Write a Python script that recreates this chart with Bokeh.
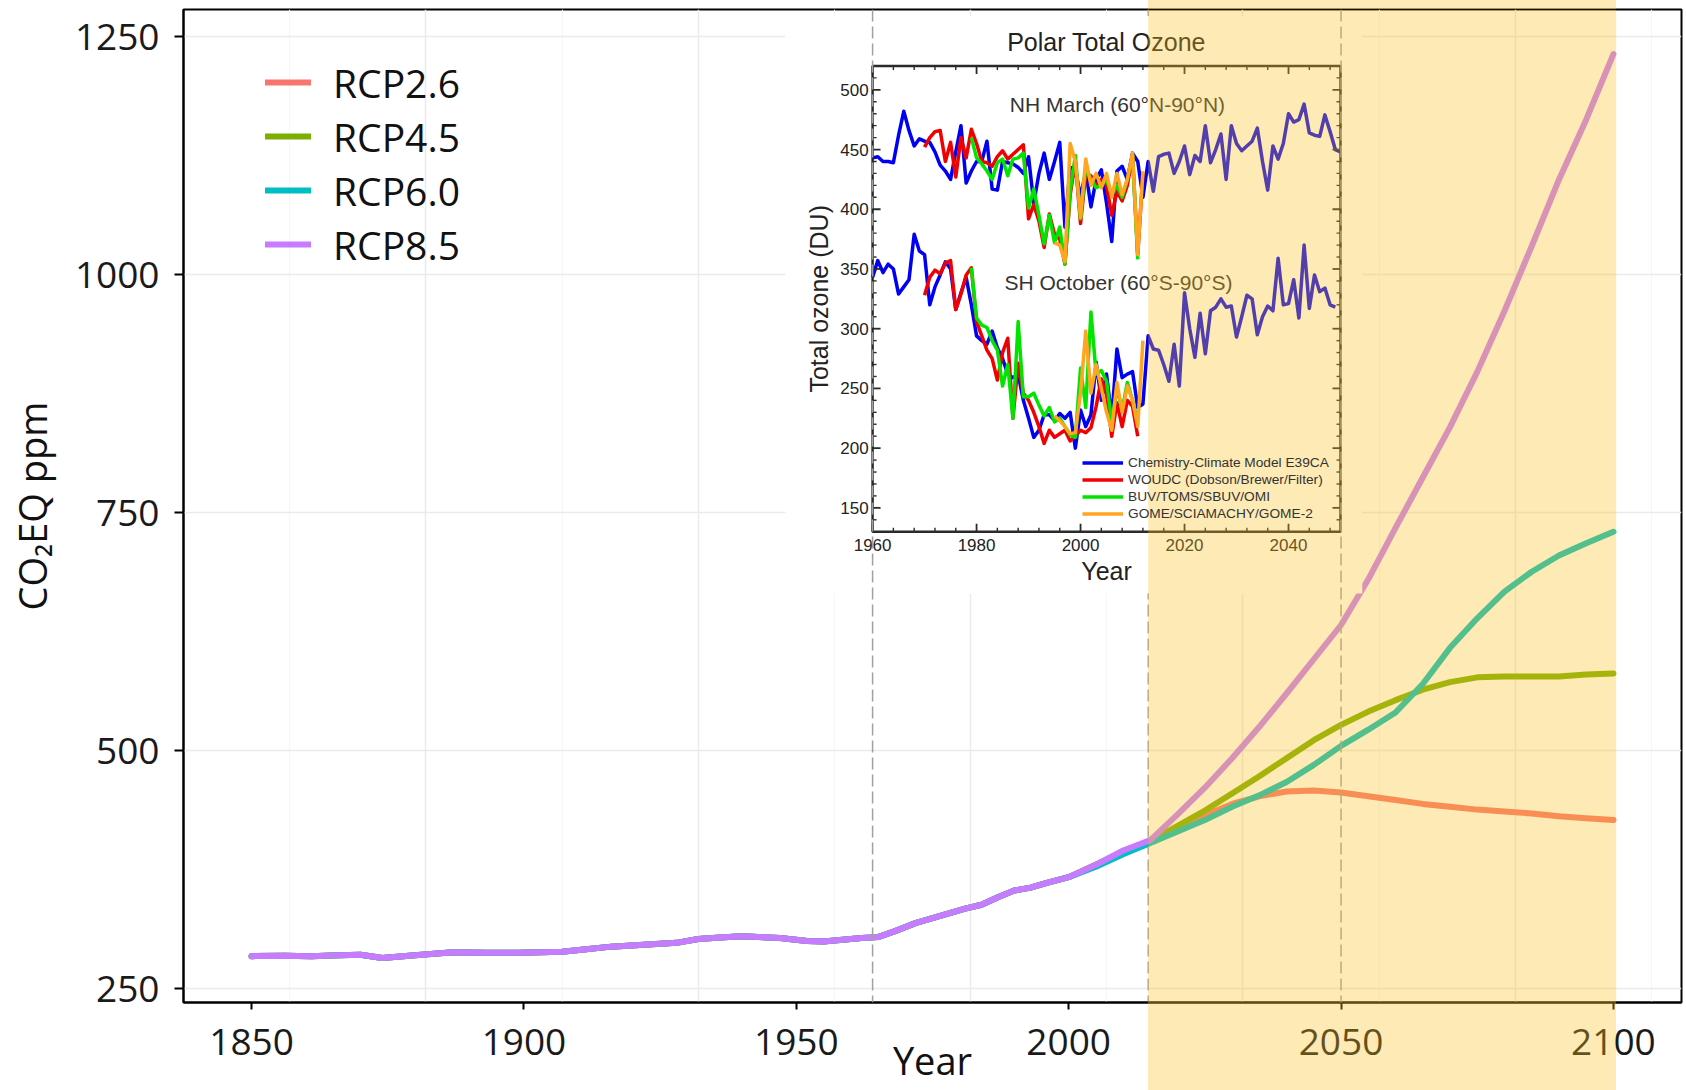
import numpy as np
from bokeh.plotting import figure
from bokeh.models import (Range1d, FixedTicker, BoxAnnotation, Span, Legend, LegendItem,
                          InlineStyleSheet)
from bokeh.core.properties import value
from bokeh.embed import file_html
from bokeh.resources import INLINE

# ---------------- main chart data (CO2-equivalent, ppm) ----------------
hist_years = [1850, 1856, 1861, 1866, 1870, 1874, 1880, 1887, 1893, 1899, 1907, 1911, 1916,
              1922, 1928, 1932, 1936, 1940, 1947, 1952, 1955, 1958, 1962, 1965, 1968, 1972,
              1975, 1978, 1981, 1984, 1987, 1990, 1993, 1996, 2000]
hist_ppm = [284, 284.5, 284, 285, 285.5, 282, 285, 288, 287.5, 287.5, 288.6, 291, 294,
            296, 298, 302, 303.5, 305, 303, 300, 299.5, 301, 303, 304, 310, 319,
            324, 329, 334, 338, 346, 353, 356, 361, 367]
proj_years = [2005, 2010, 2015, 2020, 2025, 2030, 2035, 2040, 2045, 2050,
              2055, 2060, 2065, 2070, 2075, 2080, 2085, 2090, 2095, 2100]
rcp26 = [380, 394, 405, 418, 432, 444, 452, 457, 458, 456, 452, 448, 444, 441, 438, 436, 434, 431, 429, 427]
rcp45 = [380, 394, 405, 421, 437, 455, 473, 492, 511, 527, 541, 553, 564, 572, 577, 578, 578, 578, 580, 581]
rcp60 = [378, 391, 403, 415, 427, 441, 453, 467, 485, 505, 522, 540, 570, 608, 639, 667, 688, 705, 718, 730]
rcp85 = [380, 395, 406, 433, 461, 492, 525, 560, 596, 632, 680, 734, 787, 840, 898, 962, 1030, 1100, 1163, 1232]
series_names = ["RCP2.6", "RCP4.5", "RCP6.0", "RCP8.5"]
series_colors = ["#F8766D", "#7CAE00", "#00BFC4", "#C77CFF"]
x_ticks = [1850, 1900, 1950, 2000, 2050, 2100]
y_ticks = [250, 500, 750, 1000, 1250]
grid_years = [1832, 1882, 1932, 1982, 2032, 2082]
grid_minor_years = [1857, 1907, 1957, 2007, 2057, 2107]
guide_years = [1964, 2050]
band_years = (2014.6, 2100.5)

# ---------------- inset data: polar total ozone (DU) ----------------
nh_model_years = list(range(1960, 2051))
nh_model = [443, 444, 440, 440, 439, 462, 482, 466, 453, 459, 457, 456, 448, 437, 432, 425, 448, 470,
            422, 432, 440, 440, 457, 417, 416, 440, 439, 438, 435, 430, 444, 405, 430, 447, 425, 440,
            456, 385, 435, 434, 410, 432, 402, 425, 433, 405, 373, 432, 436, 425, 447, 440, 410, 440,
            415, 444, 446, 447, 430, 440, 453, 429, 445, 440, 470, 439, 450, 463, 425, 470, 455, 449,
            453, 457, 468, 440, 416, 453, 442, 455, 480, 473, 475, 488, 464, 462, 461, 479, 465, 450, 448]
sh_model_years = list(range(1960, 2050))
sh_model = [343, 357, 347, 354, 350, 329, 335, 341, 379, 365, 362, 320, 335, 345, 356, 350, 316, 330,
            343, 320, 294, 290, 287, 298, 284, 275, 262, 259, 262, 240, 225, 209, 215, 228, 228, 223,
            229, 225, 230, 200, 232, 218, 228, 272, 240, 262, 225, 283, 259, 262, 264, 234, 237, 294,
            283, 282, 270, 256, 287, 252, 330, 300, 276, 313, 279, 315, 318, 325, 318, 319, 293, 310,
            328, 325, 295, 310, 319, 315, 359, 320, 321, 341, 309, 370, 317, 345, 331, 334, 320, 318]
nh_woudc_years = list(range(1970, 2013))
nh_woudc = [452, 460, 465, 466, 440, 456, 427, 460, 443, 467, 455, 440, 439, 436, 444, 449, 442, 446,
            450, 454, 392, 404, 390, 368, 396, 379, 375, 354, 412, 440, 388, 430, 428, 420, 425, 420,
            395, 415, 407, 420, 445, 362, 430]
nh_buv_years = list(range(1979, 2012))
nh_buv = [460, 443, 438, 432, 425, 439, 442, 428, 442, 443, 447, 401, 417, 395, 371, 395, 372, 385,
          354, 415, 445, 392, 435, 425, 418, 420, 425, 412, 420, 410, 425, 445, 358]
nh_gome_years = list(range(1995, 2013))
nh_gome = [372, 370, 356, 455, 440, 393, 442, 420, 430, 418, 430, 410, 430, 412, 425, 447, 362, 432]
sh_woudc_years = list(range(1970, 2012))
sh_woudc = [328, 343, 349, 346, 355, 357, 316, 329, 345, 351, 306, 294, 282, 275, 257, 280, 292, 225,
            271, 246, 240, 230, 218, 204, 215, 209, 212, 215, 206, 210, 215, 213, 217, 235, 258, 245,
            210, 238, 218, 240, 235, 210]
sh_buv_years = list(range(1979, 2012))
sh_buv = [351, 309, 303, 301, 290, 282, 252, 270, 225, 306, 243, 243, 246, 236, 227, 234, 222, 225,
          218, 211, 209, 267, 234, 314, 262, 265, 256, 222, 250, 232, 255, 240, 222]
sh_gome_years = list(range(1995, 2013))
sh_gome = [227, 223, 218, 212, 213, 246, 298, 246, 270, 250, 230, 215, 255, 230, 252, 240, 218, 290]
inset_names = ["Chemistry-Climate Model E39CA", "WOUDC (Dobson/Brewer/Filter)",
               "BUV/TOMS/SBUV/OMI", "GOME/SCIAMACHY/GOME-2"]
inset_colors = ["#0000F2", "#F00000", "#00E400", "#FFA51F"]
inset_x_ticks = [1960, 1980, 2000, 2020, 2040]
inset_y_ticks = [150, 200, 250, 300, 350, 400, 450, 500]

# ---------------- geometry ----------------
W, H = 1686, 1090
FRAME_L, FRAME_R, FRAME_T, FRAME_B = 183, 1681, 9, 1002
X0, X1 = 1837.5, 2112.5
Y0, Y1 = 235.3, 1278.8
inset_main_x = (1964.0, 2049.9)     # where the inset frame sits, in main-axis years
inset_main_y = (730.0, 1219.5)      # ... and in main-axis ppm
inset_xlim = (1960, 2050)
inset_ylim = (130, 520)
inset_panel_x = (1948.0, 2053.9)    # white panel behind the inset (main units)
inset_panel_y = (665.0, 1272.0)

kx = (inset_xlim[1] - inset_xlim[0]) / (inset_main_x[1] - inset_main_x[0])
ky = (inset_ylim[1] - inset_ylim[0]) / (inset_main_y[1] - inset_main_y[0])

p = figure(width=W, height=H, x_range=Range1d(X0, X1), y_range=Range1d(Y0, Y1),
           output_backend="svg", toolbar_location=None,
           min_border_left=FRAME_L, min_border_right=W - FRAME_R,
           min_border_top=FRAME_T, min_border_bottom=H - FRAME_B)
p.extra_x_ranges = {"ix": Range1d(inset_xlim[0] - (inset_main_x[0] - X0) * kx,
                                  inset_xlim[1] + (X1 - inset_main_x[1]) * kx)}
p.extra_y_ranges = {"iy": Range1d(inset_ylim[0] - (inset_main_y[0] - Y0) * ky,
                                  inset_ylim[1] + (Y1 - inset_main_y[1]) * ky)}
p.background_fill_color = "white"
p.border_fill_color = "white"
p.outline_line_color = "black"
p.outline_line_width = 2

MAIN_FONT = "Open Sans"
for ax in (p.xaxis[0], p.yaxis[0]):
    ax.axis_line_color = "black"
    ax.axis_line_width = 2
    ax.major_tick_line_color = "black"
    ax.major_tick_line_width = 2
    ax.major_tick_in = 0
    ax.minor_tick_line_color = None
    ax.major_label_text_font = MAIN_FONT
    ax.major_label_text_font_size = "37px"
    ax.major_label_text_color = "#1a1a1a"
    ax.axis_label_text_font = MAIN_FONT
    ax.axis_label_text_font_size = "38px"
    ax.axis_label_text_font_style = "normal"
    ax.axis_label_text_color = "#111111"
p.xaxis.ticker = FixedTicker(ticks=x_ticks)
p.yaxis.ticker = FixedTicker(ticks=y_ticks)
p.xaxis.axis_label = "Year"
p.yaxis.axis_label = "CO\u2082EQ ppm"
p.xaxis.major_tick_out = 7
p.xaxis.major_label_standoff = 19
p.xaxis.axis_label_standoff = -24
p.yaxis.major_tick_out = 9
p.yaxis.major_label_standoff = 15
p.yaxis.axis_label_standoff = 14

p.xgrid.ticker = FixedTicker(ticks=grid_years, minor_ticks=grid_minor_years)
p.xgrid.grid_line_color = "#EBEBEB"
p.xgrid.grid_line_width = 1.5
p.xgrid.minor_grid_line_color = "#F6F6F6"
p.xgrid.minor_grid_line_width = 1.2
p.ygrid.ticker = FixedTicker(ticks=y_ticks)
p.ygrid.grid_line_color = "#EBEBEB"
p.ygrid.grid_line_width = 1.5

# dashed guide at the band edge (hidden behind the inset panel)
p.add_layout(Span(location=band_years[0], dimension="height", line_color="#A8A8A8",
                  line_dash="12 5", line_width=1.5, level="underlay"))

# ---------------- main series ----------------
main_series = [rcp26, rcp45, rcp60, rcp85]
main_renderers = []
for name, vals, col in zip(series_names, main_series, series_colors):
    r = p.line(hist_years + proj_years, hist_ppm + vals, line_color=col, line_width=6,
               line_cap="round", line_join="round")
    main_renderers.append(r)

legend = Legend(items=[LegendItem(label=n, renderers=[r]) for n, r in zip(series_names, main_renderers)],
                location=(82, 731), padding=0, margin=0, spacing=0,
                glyph_width=46, glyph_height=54, label_height=54, label_standoff=22,
                label_text_font=MAIN_FONT, label_text_font_size="39px", label_text_color="#111111",
                background_fill_alpha=0, border_line_alpha=0)
p.add_layout(legend)

# ---------------- inset ----------------
p.quad(left=[inset_panel_x[0]], right=[inset_panel_x[1]], bottom=[inset_panel_y[0]], top=[inset_panel_y[1]],
       fill_color="white", line_color=None)

IR = dict(x_range_name="ix", y_range_name="iy")
INSET_FONT = value("Liberation Sans")
px_x = 5.2     # pixels per inset year
px_y = 1.195   # pixels per DU

inset_series = [
    (nh_model_years, nh_model, 0), (sh_model_years, sh_model, 0),
    (nh_woudc_years, nh_woudc, 1), (sh_woudc_years, sh_woudc, 1),
    (nh_buv_years, nh_buv, 2), (sh_buv_years, sh_buv, 2),
    (nh_gome_years, nh_gome, 3), (sh_gome_years, sh_gome, 3),
]
inset_renderers = {}
for xs, ys, k in inset_series:
    r = p.line(xs, ys, line_color=inset_colors[k], line_width=3.5, line_join="round", **IR)
    inset_renderers.setdefault(k, r)

# frame
p.quad(left=[inset_xlim[0]], right=[inset_xlim[1]], bottom=[inset_ylim[0]], top=[inset_ylim[1]],
       fill_color=None, line_color="#2a2a2a", line_width=2.5, **IR)
# ticks (inward)
minor_x = [v for v in np.arange(inset_xlim[0], inset_xlim[1] + 0.1, 4.0) if v not in inset_x_ticks]
minor_y = [v for v in np.arange(inset_ylim[0], inset_ylim[1] + 0.1, 10.0) if v not in inset_y_ticks]
for ticks, L, w in ((inset_x_ticks, 8, 1.8), (minor_x, 4, 1.4)):
    n = len(ticks)
    p.segment(x0=ticks, x1=ticks, y0=[inset_ylim[0]] * n, y1=[inset_ylim[0] + L / px_y] * n,
              line_color="#2a2a2a", line_width=w, **IR)
    p.segment(x0=ticks, x1=ticks, y0=[inset_ylim[1]] * n, y1=[inset_ylim[1] - L / px_y] * n,
              line_color="#2a2a2a", line_width=w, **IR)
for ticks, L, w in ((inset_y_ticks, 8, 1.8), (minor_y, 4, 1.4)):
    n = len(ticks)
    p.segment(x0=[inset_xlim[0]] * n, x1=[inset_xlim[0] + L / px_x] * n, y0=ticks, y1=ticks,
              line_color="#2a2a2a", line_width=w, **IR)
    p.segment(x0=[inset_xlim[1]] * n, x1=[inset_xlim[1] - L / px_x] * n, y0=ticks, y1=ticks,
              line_color="#2a2a2a", line_width=w, **IR)
# tick labels
p.text(x=inset_x_ticks, y=[inset_ylim[0]] * len(inset_x_ticks), text=[str(t) for t in inset_x_ticks],
       text_align="center", text_baseline="top", y_offset=7, text_font=INSET_FONT,
       text_font_size="17px", text_color="#222222", **IR)
p.text(x=[inset_xlim[0]] * len(inset_y_ticks), y=inset_y_ticks, text=[str(t) for t in inset_y_ticks],
       text_align="right", text_baseline="middle", x_offset=-4, text_font=INSET_FONT,
       text_font_size="17px", text_color="#222222", **IR)
# labels & annotations
p.text(x=[2005], y=[inset_ylim[1]], text=["Polar Total Ozone"], text_align="center",
       text_baseline="middle", y_offset=-24, text_font=INSET_FONT, text_font_size="25px",
       text_color="#222222", **IR)
p.text(x=[2005], y=[inset_ylim[0]], text=["Year"], text_align="center",
       text_baseline="middle", y_offset=39, text_font=INSET_FONT, text_font_size="25px",
       text_color="#222222", **IR)
p.text(x=[inset_xlim[0]], y=[325], text=["Total ozone (DU)"], text_align="center",
       text_baseline="middle", x_offset=-54, angle=np.pi / 2, text_font=INSET_FONT,
       text_font_size="25px", text_color="#222222", **IR)
p.text(x=[2007.1, 2007.3], y=[488, 339], text=["NH March (60°N-90°N)", "SH October (60°S-90°S)"],
       text_align="center", text_baseline="middle", text_font=INSET_FONT, text_font_size="21px",
       text_color="#333333", **IR)

inset_legend = Legend(items=[LegendItem(label=inset_names[k], renderers=[inset_renderers[k]]) for k in range(4)],
                      location=(899, 480), padding=0, margin=0, spacing=0,
                      glyph_width=41, glyph_height=17, label_height=17, label_standoff=5,
                      label_text_font="Liberation Sans", label_text_font_size="13.7px",
                      label_text_color="#333333", background_fill_alpha=0, border_line_alpha=0)
p.add_layout(inset_legend)

# dashed guides on top of the inset panel
for yr in guide_years:
    p.add_layout(Span(location=yr, dimension="height", line_color="#A0A0A0",
                      line_dash="12 5", line_width=1.5))

# translucent highlight band (inside the plotting frame)
BAND_RGB = (250, 190, 30)
BAND_ALPHA = 0.33
p.add_layout(BoxAnnotation(left=band_years[0], right=band_years[1],
                           fill_color="#%02X%02X%02X" % BAND_RGB, fill_alpha=BAND_ALPHA,
                           line_alpha=0, level="overlay"))

# the same band continued over the page margins above and below the frame
bx0 = FRAME_L + (band_years[0] - X0) / (X1 - X0) * (FRAME_R - FRAME_L)
bx1 = FRAME_L + (band_years[1] - X0) / (X1 - X0) * (FRAME_R - FRAME_L)
rgba = "rgba(%d,%d,%d,%.2f)" % (BAND_RGB + (BAND_ALPHA,))
css = (
    ":host::before, :host::after { content: ''; position: absolute; pointer-events: none; "
    f"z-index: 50; left: {bx0:.1f}px; width: {bx1 - bx0:.1f}px; background: {rgba}; }}"
    f":host::before {{ top: 0px; height: {FRAME_T}px; }}"
    f":host::after {{ top: {FRAME_B}px; height: {H - FRAME_B}px; }}"
)
p.stylesheets = [InlineStyleSheet(css=css)]

open("out.html", "w").write(file_html(p, INLINE, "CO2EQ ppm"))
